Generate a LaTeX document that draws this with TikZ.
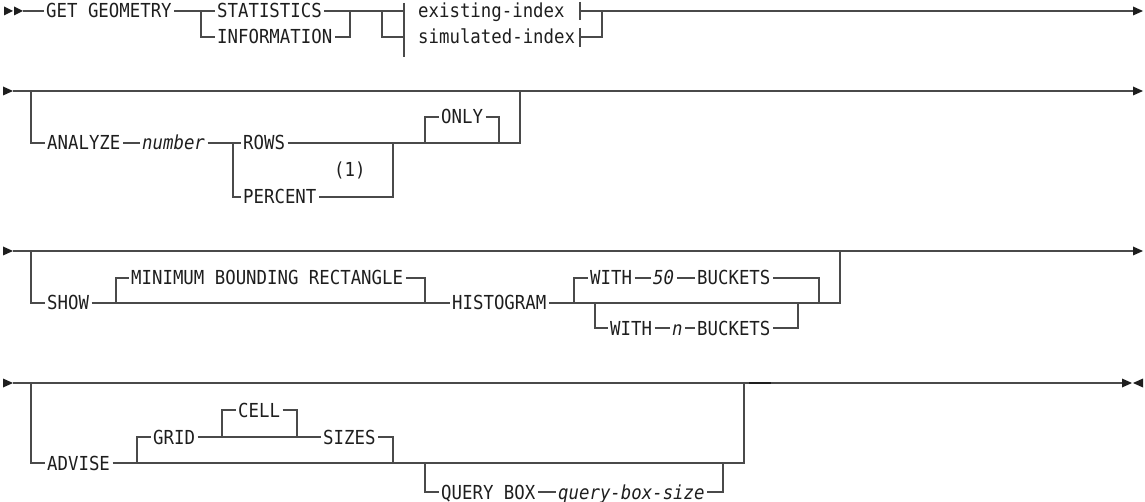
\documentclass[tikz,border=0pt]{standalone}
\usepackage{fontspec}
\newfontfamily\rrfont[FakeStretch=0.9]{DejaVu Sans Mono}
\definecolor{railc}{HTML}{4A4A4A}
\definecolor{ink}{HTML}{1E1E1E}
\begin{document}
\begin{tikzpicture}[x=1pt,y=-1pt,
  rail/.style={draw=railc,line width=1.2pt},
  kw/.style={anchor=west,inner xsep=2.5pt,inner ysep=0pt,text height=14pt,text depth=0pt,
    font=\rrfont\fontsize{19.3}{22}\selectfont,text=ink},
  var/.style={kw,font=\rrfont\itshape\fontsize{19.3}{22}\selectfont},
  tipc/.style={fill=ink,draw=none}]
\useasboundingbox (0,0) rectangle (1145,502);

% ---------------- first line ----------------
\fill[tipc] (4,6.5) -- (13,11) -- (4,15.5) -- cycle;
\fill[tipc] (14,6.5) -- (23,11) -- (14,15.5) -- cycle;
\coordinate (s1) at (23,11);
\node[kw] (gg) at (43.5,11) {GET GEOMETRY};
\node[kw] (st) at (214.5,11) {STATISTICS};
\node[kw] (in) at (214.5,37) {INFORMATION};
\coordinate (b1) at (201,11);
\coordinate (j1) at (350,11);
\coordinate (b2) at (382,11);
\coordinate (f1) at (404,11);
\coordinate (f1d) at (404,37);
\coordinate (fbt) at (404,3);
\coordinate (fbb) at (404,57);
\node[kw] (ex) at (415.5,11) {existing-index};
\node[kw] (si) at (415.5,37) {simulated-index};
\coordinate (ebt) at (580,2);
\coordinate (ebb) at (580,20);
\coordinate (sbt) at (580,28);
\coordinate (sbb) at (580,47);
\coordinate (e1) at (580,11);
\coordinate (s1r) at (580,37);
\coordinate (k1) at (602,11);
\coordinate (t1) at (1133,11);
\draw[rail] (s1) -- (gg.west);
\draw[rail] (gg.east) -- (st.west);
\draw[rail] (b1) |- (in.west);
\draw[rail] (st.east) -- (f1);
\draw[rail] (in.east) -| (j1);
\draw[rail] (b2) |- (f1d);
\draw[rail] (fbt) -- (fbb);
\draw[rail] (ebt) -- (ebb);
\draw[rail] (sbt) -- (sbb);
\draw[rail] (s1r) -| (k1);
\draw[rail] (e1) -- (t1);
\fill[tipc] (1133,6.5) -- (1143,11) -- (1133,15.5) -- cycle;

% ---------------- second line ----------------
\fill[tipc] (3,86.5) -- (13,91) -- (3,95.5) -- cycle;
\coordinate (s2) at (13,91);
\coordinate (t2) at (1133,91);
\coordinate (b21) at (31,91);
\node[kw] (an) at (44.5,143) {ANALYZE};
\node[var] (nu) at (139.5,143) {number};
\node[kw] (ro) at (240.5,143) {ROWS};
\node[kw] (pc) at (240.5,197) {PERCENT};
\node[kw] (n1) at (331.5,170) {(1)};
\node[kw] (on) at (438.5,117) {ONLY};
\coordinate (b22) at (233,143);
\coordinate (j22) at (393,143);
\coordinate (b23) at (425,143);
\coordinate (j23) at (499,143);
\coordinate (j21) at (520,91);
\draw[rail] (s2) -- (t2);
\fill[tipc] (1133,86.5) -- (1143,91) -- (1133,95.5) -- cycle;
\draw[rail] (b21) |- (an.west);
\draw[rail] (an.east) -- (nu.west);
\draw[rail] (nu.east) -- (ro.west);
\draw[rail] (b22) |- (pc.west);
\draw[rail] (pc.east) -| (j22);
\draw[rail] (ro.east) -| (j21);
\draw[rail] (b23) |- (on.west);
\draw[rail] (on.east) -| (j23);

% ---------------- third line ----------------
\fill[tipc] (3,246.5) -- (13,251) -- (3,255.5) -- cycle;
\coordinate (s3) at (13,251);
\coordinate (t3) at (1133,251);
\coordinate (b31) at (31,251);
\node[kw] (sh) at (44.5,303) {SHOW};
\node[kw] (mb) at (128.5,278) {MINIMUM BOUNDING RECTANGLE};
\node[kw] (hi) at (449.5,303) {HISTOGRAM};
\node[kw] (w1) at (587.5,278) {WITH};
\node[var] (fi) at (650.5,278) {50};
\node[kw] (bu1) at (694.5,278) {BUCKETS};
\node[kw] (w2) at (607.5,328) {WITH};
\node[var] (nn) at (669.5,328) {n};
\node[kw] (bu2) at (694.5,328) {BUCKETS};
\coordinate (b32) at (116,303);
\coordinate (j32) at (425,303);
\coordinate (b33) at (574,303);
\coordinate (b34) at (595,303);
\coordinate (j34) at (798,303);
\coordinate (j33) at (819,303);
\coordinate (j31) at (840,251);
\draw[rail] (s3) -- (t3);
\fill[tipc] (1133,246.5) -- (1143,251) -- (1133,255.5) -- cycle;
\draw[rail] (b31) |- (sh.west);
\draw[rail] (sh.east) -- (hi.west);
\draw[rail] (b32) |- (mb.west);
\draw[rail] (mb.east) -| (j32);
\draw[rail] (hi.east) -| (j31);
\draw[rail] (b33) |- (w1.west);
\draw[rail] (w1.east) -- (fi.west);
\draw[rail] (fi.east) -- (bu1.west);
\draw[rail] (bu1.east) -| (j33);
\draw[rail] (b34) |- (w2.west);
\draw[rail] (w2.east) -- (nn.west);
\draw[rail] (nn.east) -- (bu2.west);
\draw[rail] (bu2.east) -| (j34);

% ---------------- fourth line ----------------
\fill[tipc] (3,378.5) -- (13,383) -- (3,387.5) -- cycle;
\coordinate (s4) at (13,383);
\coordinate (t4) at (1122,383);
\coordinate (b41) at (31,383);
\node[kw] (ad) at (44.5,463) {ADVISE};
\node[kw] (gr) at (150.5,437) {GRID};
\node[kw] (ce) at (235.5,410) {CELL};
\node[kw] (si4) at (320.5,437) {SIZES};
\node[kw] (qb) at (438.5,492) {QUERY BOX};
\node[var] (qs) at (555.5,492) {query-box-size};
\coordinate (b42) at (137,463);
\coordinate (b43) at (222,437);
\coordinate (j43) at (297,437);
\coordinate (j42) at (393,463);
\coordinate (b44) at (425,463);
\coordinate (j44) at (723,463);
\coordinate (j41) at (744,383);
\coordinate (m1) at (749,383);
\coordinate (m2) at (771,383);
\draw[rail] (s4) -- (t4);
\draw[draw=ink,line width=1.8pt] (m1) -- (m2);
\fill[tipc] (1122,378.5) -- (1132,383) -- (1122,387.5) -- cycle;
\fill[tipc] (1143,378.5) -- (1133,383) -- (1143,387.5) -- cycle;
\draw[rail] (b41) |- (ad.west);
\draw[rail] (ad.east) -| (j41);
\draw[rail] (b42) |- (gr.west);
\draw[rail] (gr.east) -- (si4.west);
\draw[rail] (b43) |- (ce.west);
\draw[rail] (ce.east) -| (j43);
\draw[rail] (si4.east) -| (j42);
\draw[rail] (b44) |- (qb.west);
\draw[rail] (qb.east) -- (qs.west);
\draw[rail] (qs.east) -| (j44);
\end{tikzpicture}
\end{document}
